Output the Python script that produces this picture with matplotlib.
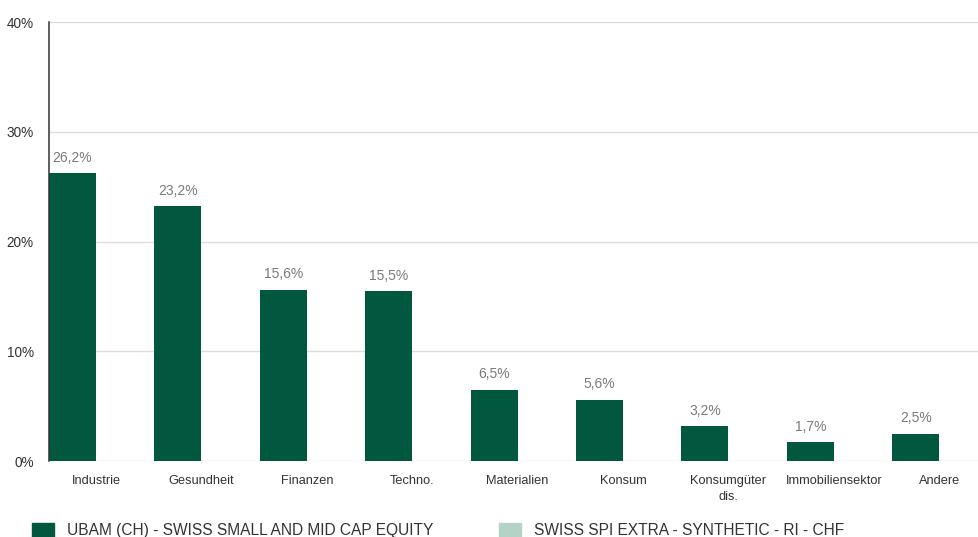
"""Sector allocation bar chart: fund vs benchmark."""

import matplotlib.pyplot as plt
from matplotlib.patches import Patch

plt.rcParams["font.family"] = ["Liberation Sans", "DejaVu Sans"]

categories = [
    "Industrie",
    "Gesundheit",
    "Finanzen",
    "Techno.",
    "Materialien",
    "Konsum",
    "Konsumgüter\ndis.",
    "Immobiliensektor",
    "Andere",
]
fund = [26.2, 23.2, 15.6, 15.5, 6.5, 5.6, 3.2, 1.7, 2.5]
bench = [0, 0, 0, 0, 0, 0, 0, 0, 0]  # not shown in the picture
yticks = [0, 10, 20, 30, 40]

fund_name = "UBAM (CH) - SWISS SMALL AND MID CAP EQUITY"
bench_name = "SWISS SPI EXTRA - SYNTHETIC - RI - CHF"

fund_color = "#02573f"
bench_color = "#b4d2c6"

fig = plt.figure(figsize=(9.79, 5.37), dpi=100)
ax = fig.add_axes([0.05, 0.1415, 0.95, 0.8175])

w = 0.446
xs = list(range(len(categories)))
ax.bar(xs, fund, width=-w, align="edge", color=fund_color, zorder=3)
ax.bar(xs, bench, width=w, align="edge", color=bench_color, zorder=3)

for x, v in zip(xs, fund):
    ax.annotate(
        f"{v:.1f}%".replace(".", ","),
        (x - w / 2, v),
        xytext=(0, 6),
        textcoords="offset points",
        ha="center",
        va="bottom",
        fontsize=10,
        color="#7a7a7a",
    )

ax.set_xlim(-w, 8.378)
ax.set_ylim(0, 40)
ax.set_yticks(yticks)
ax.set_yticklabels([f"{t}%" for t in yticks])
ax.set_xticks(xs)
ax.set_xticklabels(categories, linespacing=1.45)
ax.tick_params(axis="both", length=0, colors="#333333")
ax.tick_params(axis="x", pad=10, labelsize=9.2)
ax.tick_params(axis="y", pad=11, labelsize=9.8)

ax.grid(axis="y", color="#dcdcdc", linewidth=1, zorder=0)
for side in ["top", "right", "bottom"]:
    ax.spines[side].set_visible(False)
ax.spines["left"].set_color("#333333")
ax.spines["left"].set_linewidth(1.1)
ax.spines["left"].set_zorder(4)

for name, col, x0 in [(fund_name, fund_color, 0.026), (bench_name, bench_color, 0.503)]:
    leg = fig.legend(
        handles=[Patch(color=col)],
        labels=[name],
        loc="center left",
        bbox_to_anchor=(x0, 0.012),
        frameon=False,
        fontsize=11.2,
        handlelength=1.45,
        handleheight=1.0,
        handletextpad=0.85,
        borderaxespad=0,
        labelcolor="#333333",
    )

fig.savefig("out.png", dpi=100)
